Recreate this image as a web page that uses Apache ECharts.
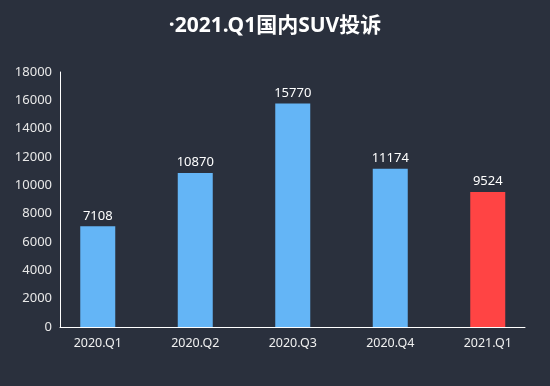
<!DOCTYPE html>
<html><head><meta charset="utf-8">
<script src="https://cdn.jsdelivr.net/npm/echarts@6/dist/echarts.min.js"></script>
<style>html,body{margin:0;padding:0;background:#2a303d;}#c{width:550px;height:386px;}</style>
</head><body><div id="c"></div>
<script>
const categories = ['2020.Q1','2020.Q2','2020.Q3','2020.Q4','2021.Q1'];
const complaints = [7108, 10870, 15770, 11174, 9524];
const barColors = ['#64b5f6','#64b5f6','#64b5f6','#64b5f6','#ff4444'];
const yTicks = {min: 0, max: 18000, interval: 2000};
const titleText = '·2021.Q1国内SUV投诉';

const font = '"Noto Sans", "Noto Sans CJK SC", sans-serif';
const chart = echarts.init(document.getElementById('c'));
chart.setOption({
  backgroundColor: '#2a303d',
  animation: false,
  title: {text: titleText, left: 'center', top: 11,
    textStyle: {color: '#ffffff', fontSize: 21, fontWeight: 'bold', fontFamily: '"Noto Sans", "Noto Sans CJK SC", sans-serif'}},
  grid: [
    {left: 60, right: 25, top: 72, bottom: 59},
    {left: 49, right: 13.5, top: 72, bottom: 59}
  ],
  xAxis: [
    {gridIndex: 0, type: 'value', min: 0, max: 1, axisLine: {show: true, lineStyle: {color: '#ffffff', width: 1}},
     axisTick: {show: false}, axisLabel: {show: false}, splitLine: {show: false}},
    {gridIndex: 1, type: 'category', data: categories, axisLine: {show: false}, axisTick: {show: false},
     axisLabel: {color: '#f0f0f0', fontSize: 12.5, margin: 10, fontFamily: font}}
  ],
  yAxis: [
    {gridIndex: 0, type: 'value', min: yTicks.min, max: yTicks.max, interval: yTicks.interval,
     axisLine: {show: true, lineStyle: {color: '#ffffff', width: 1}}, axisTick: {show: false},
     splitLine: {show: false},
     axisLabel: {color: '#e8e8e8', fontSize: 13, margin: 8, fontFamily: font, formatter: v => String(v)}},
    {gridIndex: 1, type: 'value', min: yTicks.min, max: yTicks.max, show: false, splitLine: {show: false}}
  ],
  series: [{
    type: 'bar', xAxisIndex: 1, yAxisIndex: 1, barWidth: 35,
    data: complaints.map((v, i) => ({value: v, itemStyle: {color: barColors[i]}})),
    label: {show: true, position: 'top', distance: 4, color: '#ffffff', fontSize: 13, fontFamily: font}
  }]
});
</script></body></html>
